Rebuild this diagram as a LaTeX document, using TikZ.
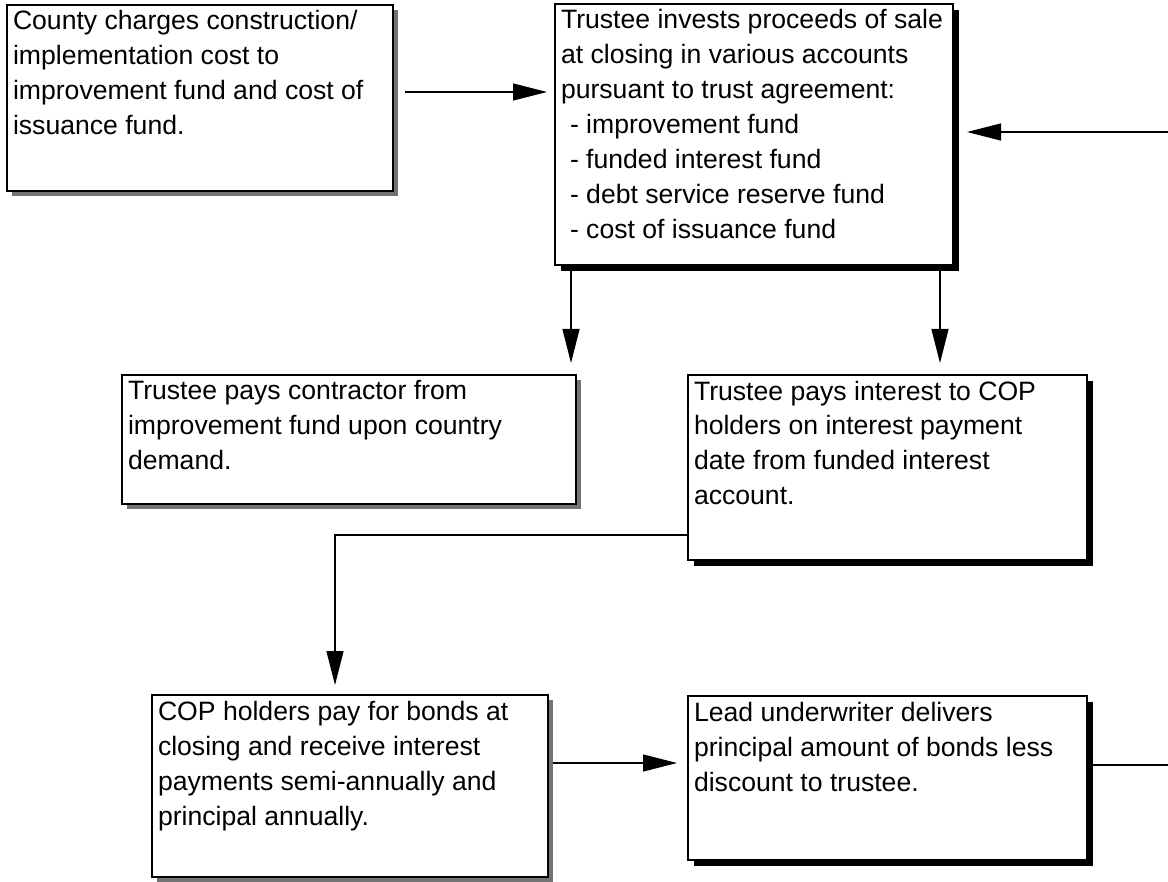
\documentclass[tikz,border=0pt]{standalone}
\usepackage{fontspec}
\setmainfont{Liberation Sans}
\usetikzlibrary{arrows.meta,shadows,calc}

% Fixed-size text block for a card: width, height, text (top-left aligned)
\newcommand\cardbody[3]{%
  \parbox[c][#2][t]{#1}{\raggedright\leftskip=6pt\relax
    \fontsize{26.6pt}{35pt}\selectfont\rule{0pt}{25pt}#3}}

\tikzset{
  card/.style={draw, line width=1.5pt, fill=white, inner sep=0pt, outer sep=0pt, anchor=north west},
  darkshadow/.style={drop shadow={shadow xshift=6pt, shadow yshift=-6pt, fill=black, opacity=1}},
  greyshadow/.style={drop shadow={shadow xshift=5pt, shadow yshift=-5pt, fill=black!55, opacity=1}},
  flow/.style={line width=1.2pt, -{Triangle[length=34pt,width=17pt]}},
  link/.style={line width=1.2pt}
}

\begin{document}
\begin{tikzpicture}[x=1pt,y=-1pt]
\useasboundingbox[fill=white] (0,0) rectangle (1168,882);

% cards
\node[card,greyshadow] (county) at (7,5)
  {\cardbody{386pt}{186pt}{County charges construction/\\implementation cost to\\improvement fund and cost of\\issuance fund.}};

\node[card,darkshadow] (trustee) at (555,4)
  {\cardbody{398pt}{261pt}{Trustee invests proceeds of sale\\at closing in various accounts\\pursuant to trust agreement:\\
   \hspace*{9pt}- improvement fund\\\hspace*{9pt}- funded interest fund\\\hspace*{9pt}- debt service reserve fund\\\hspace*{9pt}- cost of issuance fund}};

\node[card,greyshadow] (contractor) at (122,375)
  {\cardbody{454pt}{129pt}{Trustee pays contractor from\\improvement fund upon country\\demand.}};

\node[card,darkshadow] (interest) at (688,375)
  {\cardbody{399pt}{185pt}{Trustee pays interest to COP\\holders on interest payment\\date from funded interest\\account.}};

\node[card,greyshadow] (holders) at (152,695)
  {\cardbody{396pt}{182pt}{COP holders pay for bonds at\\closing and receive interest\\payments semi-annually and\\principal annually.}};

\node[card,darkshadow] (underwriter) at (688,696)
  {\cardbody{399pt}{164pt}{Lead underwriter delivers\\principal amount of bonds less\\discount to trustee.}};

% loose ends of the return line at the right margin
\coordinate (feedin) at (1168,132);
\coordinate (feedout) at (1168,765);

% connectors
\draw[flow, shorten <=12pt, shorten >=8pt]
  ($(county.north east)+(0,87)$) -- ($(trustee.north west)+(0,88)$);
\draw[flow, shorten >=14pt] (feedin) -- (feedin -| trustee.east);
\draw[flow, shorten >=12pt]
  ($(trustee.south west)+(16,0)$) coordinate (dl) -- (dl |- contractor.north);
\draw[flow, shorten >=12pt]
  ($(trustee.south east)+(-13,0)$) coordinate (dr) -- (dr |- interest.north);
\draw[flow, shorten >=10pt]
  ($(interest.north west)+(0,160)$) -| ($(holders.north west)+(183,0)$);
\draw[flow, shorten <=5pt, shorten >=11pt]
  ($(holders.north east)+(0,68)$) -- ($(underwriter.north west)+(0,67)$);
\draw[link, shorten <=5pt] ($(underwriter.north east)+(0,69)$) -- (feedout);
\end{tikzpicture}
\end{document}
